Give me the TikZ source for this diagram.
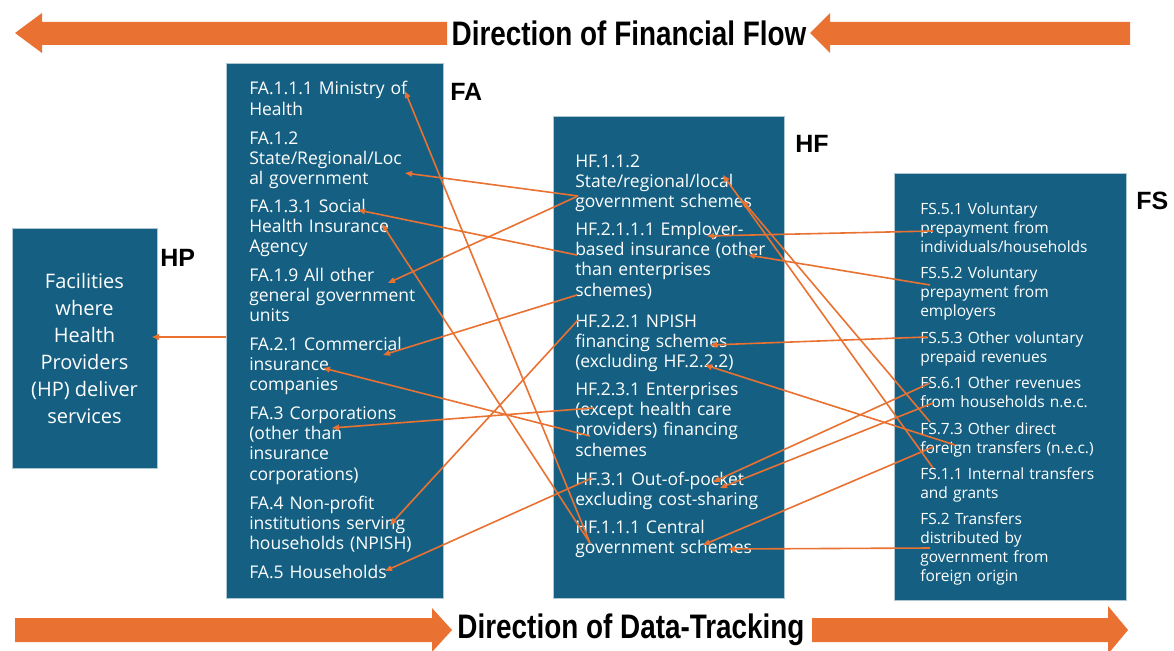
\documentclass[tikz,border=0pt]{standalone}
\usepackage{fontspec}
\setmainfont{Open Sans}
\newfontfamily\headfont{Liberation Sans}
\usepackage{tikz}
\usetikzlibrary{
	arrows.meta,
	positioning
}
\definecolor{boxblue}{HTML}{156082}
\definecolor{flow}{HTML}{E97132}
\tikzset{every path/.append style={line width=0.5pt}}
\tikzset{
	col/.style={fill=boxblue,draw=boxblue!35!white,line width=1pt,inner sep=0pt},
	entry/.style={anchor=base west,inner sep=0pt,text=white,align=left,text width=215pt,font=\fontsize{17.5}{20.4}\selectfont},
	fsentry/.style={entry,font=\fontsize{15.5}{19}\selectfont},
	tag/.style={anchor=base west,inner sep=0pt,font=\headfont\bfseries\fontsize{25}{25}\selectfont},
	link/.style={draw=flow,line width=1.6pt,-{Triangle[length=7pt,width=5.5pt]}},
	banner/.style={fill=flow},
	title/.style={inner sep=0pt,font=\headfont\bfseries\fontsize{34}{34}\selectfont}
}

\begin{document}
\begin{tikzpicture}[x=1pt,y=-1pt]
	\useasboundingbox (0,0) rectangle (1174,650);

	\fill[banner] (15,33) -- (42,13) -- (42,22) -- (447,22) -- (447,45) -- (42,45) -- (42,53) -- cycle;
	\fill[banner] (810,33) -- (830,13) -- (830,22) -- (1130,22) -- (1130,45) -- (830,45) -- (830,53) -- cycle;
	\node (flowtitle) [title] at (629,33) {\scalebox{0.82}[1]{Direction of Financial Flow}};

	\fill[banner] (15,618) -- (432,618) -- (432,608) -- (452,630) -- (432,652) -- (432,642) -- (15,642) -- cycle;
	\fill[banner] (812,618) -- (1108,618) -- (1108,606) -- (1128,630) -- (1108,654) -- (1108,642) -- (812,642) -- cycle;
	\node (tracktitle) [title] at (631,630) {\scalebox{0.82}[1]{Direction of Data-Tracking}};

	\node (hp) [col,minimum width=145pt,minimum height=240pt,text=white,align=center,font=\fontsize{20}{27}\selectfont] at (84.5,348)
		{Facilities\\where\\Health\\Providers\\(HP) deliver\\services};
	\node (fa) [col,anchor=north west,minimum width=217pt,minimum height=535pt] at (226,63) {};
	\node (hf) [col,anchor=north west,minimum width=231pt,minimum height=482pt] at (553,116) {};
	\node (fs) [col,anchor=north west,minimum width=232pt,minimum height=427pt] at (894,173) {};

	\node (hptag) [tag] at (160,266) {HP};
	\node (fatag) [tag] at (450,101) {FA};
	\node (hftag) [tag] at (795,152) {HF};
	\node (fstag) [tag] at (1136,209) {FS};

	\node (fa111) [entry] at (249,95) {FA.1.1.1 Ministry of\\Health};
	\node (fa12) [entry] at (249,144) {FA.1.2\\State/Regional/Loc\\al government};
	\node (fa131) [entry] at (249,212) {FA.1.3.1 Social\\Health Insurance\\Agency};
	\node (fa19) [entry] at (249,281) {FA.1.9 All other\\general government\\units};
	\node (fa21) [entry] at (249,350) {FA.2.1 Commercial\\insurance\\companies};
	\node (fa3) [entry] at (249,419) {FA.3 Corporations\\(other than\\insurance\\corporations)};
	\node (fa4) [entry] at (249,509) {FA.4 Non-profit\\institutions serving\\households (NPISH)};
	\node (fa5) [entry] at (249,578) {FA.5 Households};

	\node (hf112) [entry] at (575,167) {HF.1.1.2\\State/regional/local\\government schemes};
	\node (hf2111) [entry] at (575,235) {HF.2.1.1.1 Employer-\\based insurance (other\\than enterprises\\schemes)};
	\node (hf221) [entry] at (575,327) {HF.2.2.1 NPISH\\financing schemes\\(excluding HF.2.2.2)};
	\node (hf231) [entry] at (575,395) {HF.2.3.1 Enterprises\\(except health care\\providers) financing\\schemes};
	\node (hf31) [entry] at (575,485) {HF.3.1 Out-of-pocket\\excluding cost-sharing};
	\node (hf111) [entry] at (575,533) {HF.1.1.1 Central\\government schemes};

	\node (fs51) [fsentry] at (920,214) {FS.5.1 Voluntary\\prepayment from\\individuals/households};
	\node (fs52) [fsentry] at (920,278) {FS.5.2 Voluntary\\prepayment from\\employers};
	\node (fs53) [fsentry] at (920,343) {FS.5.3 Other voluntary\\prepaid revenues};
	\node (fs61) [fsentry] at (920,388) {FS.6.1 Other revenues\\from households n.e.c.};
	\node (fs73) [fsentry] at (920,434) {FS.7.3 Other direct\\foreign transfers (n.e.c.)};
	\node (fs11) [fsentry] at (920,479) {FS.1.1 Internal transfers\\and grants};
	\node (fs2) [fsentry] at (920,524) {FS.2 Transfers\\distributed by\\government from\\foreign origin};

	\coordinate (hpin) at (152,337);
	\coordinate (fa111e) at (405,91);
	\coordinate (fa12e) at (405,173);
	\coordinate (fa131e) at (358,210);
	\coordinate (fa131f) at (382,224);
	\coordinate (fa19e) at (388,283);
	\coordinate (fa21e) at (383,355);
	\coordinate (fa21f) at (323,368);
	\coordinate (fa3e) at (332,428);
	\coordinate (fa4e) at (390,525);
	\coordinate (fa5e) at (385,571);

	\coordinate (hf112w) at (578,196);
	\coordinate (hf112e) at (723,175);
	\coordinate (hf112f) at (742,200);
	\coordinate (hf2111w) at (577,255);
	\coordinate (hf2111v) at (577,295);
	\coordinate (hf2111e) at (707,236);
	\coordinate (hf2111f) at (748,255);
	\coordinate (hf221w) at (578,320);
	\coordinate (hf221e) at (710,345);
	\coordinate (hf2222e) at (705,365);
	\coordinate (hf231w) at (593,408);
	\coordinate (hf231v) at (590,436);
	\coordinate (hf31w) at (592,478);
	\coordinate (hf31e) at (713,482);
	\coordinate (hf31f) at (720,488);
	\coordinate (hf111w) at (590,543);
	\coordinate (hf111e) at (703,545);
	\coordinate (hf111f) at (728,549);

	\coordinate (fs51w) at (933,231);
	\coordinate (fs52w) at (930,285);
	\coordinate (fs53w) at (927,337);
	\coordinate (fs61w) at (930,383);
	\coordinate (fs61v) at (933,403);
	\coordinate (fs73w) at (930,422);
	\coordinate (fs73v) at (955,445);
	\coordinate (fs73u) at (933,447);
	\coordinate (fs11w) at (933,468);
	\coordinate (fs2w) at (930,548);

	\draw[link] (fa.west |- hpin) -- (hpin);

	\draw[link] (hf112w) -- (fa12e);
	\draw[link] (hf112w) -- (fa19e);
	\draw[link] (hf2111w) -- (fa131e);
	\draw[link] (hf2111v) -- (fa21e);
	\draw[link] (hf221w) -- (fa4e);
	\draw[link] (hf231w) -- (fa3e);
	\draw[link] (hf231v) -- (fa21f);
	\draw[link] (hf31w) -- (fa5e);
	\draw[link] (hf111w) -- (fa111e);
	\draw[link] (hf111w) -- (fa131f);

	\draw[link] (fs51w) -- (hf2111e);
	\draw[link] (fs52w) -- (hf2111f);
	\draw[link] (fs53w) -- (hf221e);
	\draw[link] (fs73v) -- (hf2222e);
	\draw[link] (fs61w) -- (hf31e);
	\draw[link] (fs61v) -- (hf31f);
	\draw[link] (fs73u) -- (hf111e);
	\draw[link] (fs2w) -- (hf111f);
	\draw[link] (fs11w) -- (hf112e);
	\draw[link] (fs73w) -- (hf112f);
\end{tikzpicture}
\end{document}
